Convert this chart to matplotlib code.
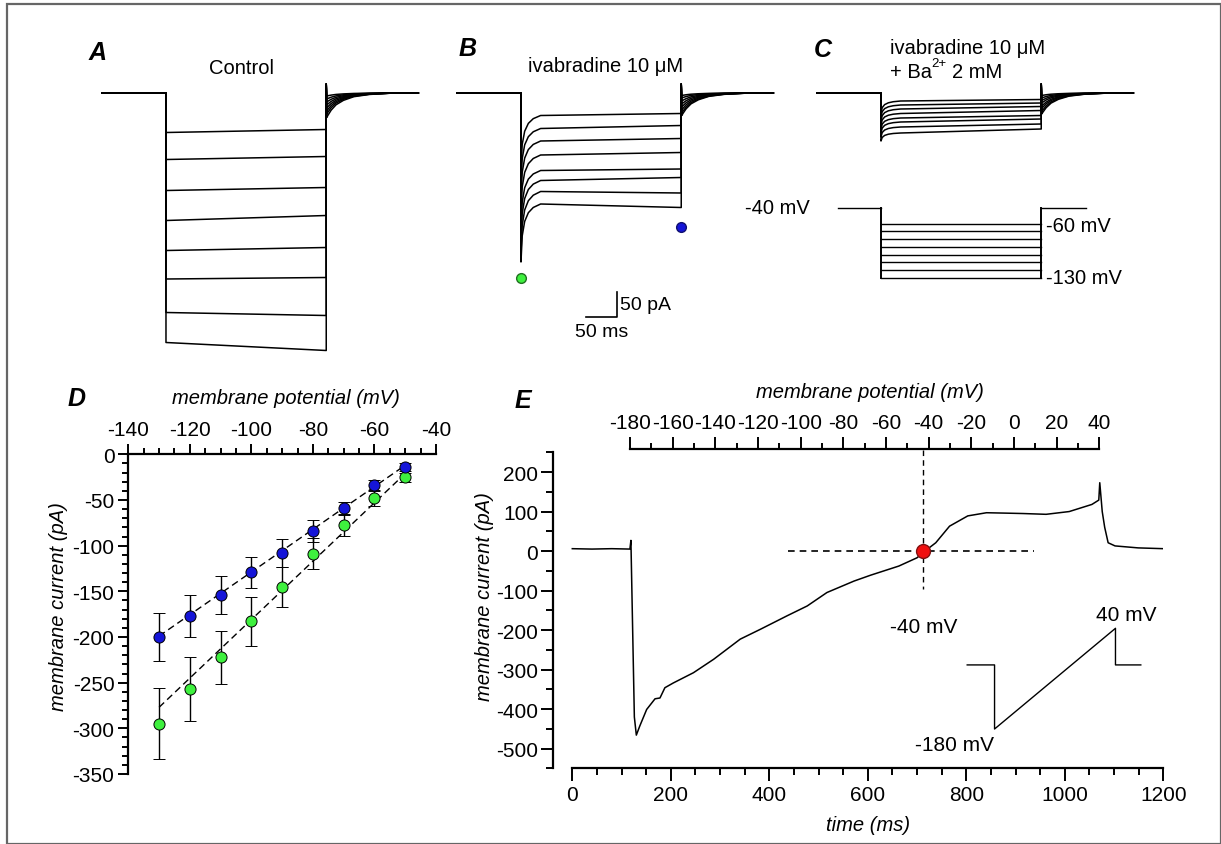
import matplotlib
matplotlib.use("Agg")
import matplotlib.pyplot as plt
from matplotlib.patches import Rectangle
from matplotlib.ticker import MultipleLocator

plt.rcParams['font.family'] = ['Liberation Sans', 'DejaVu Sans']
plt.rcParams['axes.unicode_minus'] = False

W, H = 1221, 845

# -------- DATA --------
# panels A-C : step protocol timing (ms)
t_on, t_off, t_end = 106, 367, 517

# A : control currents (pA) at start / end of each step, tail dip
ctrl_start = [-79, -133, -195, -255, -315, -372, -439, -499]
ctrl_end = [-73, -127, -189, -245, -309, -369, -445, -515]
ctrl_tail = [-6, -12, -18, -24, -30, -36, -42, -49]

# B : ivabradine 10 uM
ivab_peak = [-150, -180, -210, -240, -270, -295, -320, -338]
ivab_start = [-45, -71, -96, -124, -155, -175, -197, -222]
ivab_end = [-41, -65, -91, -119, -152, -169, -200, -229]
ivab_tail = [-5, -10, -16, -22, -28, -34, -40, -45]

# C : ivabradine + Ba2+
ba_peak = [-40, -48, -56, -64, -72, -80, -88, -96]
ba_start = [-16, -24, -32, -41, -50, -58, -68, -80]
ba_end = [-13, -20, -27, -35, -45, -52, -62, -72]
ba_tail = [-5, -10, -15, -20, -26, -31, -37, -42]

# transient shapes (fraction of amplitude)
onset_dt = [2, 6, 12, 20, 32]
onset_shape = [0.55, 0.3, 0.15, 0.06, 0.0]
tail_dt = [3, 8, 16, 28, 45, 70, 110]
tail_shape = [0.9, 0.7, 0.48, 0.3, 0.15, 0.06, 0.0]
tail_spike = 18

# voltage protocol (mV)
hold_mV = -40
step_mV = [-60, -70, -80, -90, -100, -110, -120, -130]
prot_t = [36, 440]

# D : I-V relation
iv_mV = [-130, -120, -110, -100, -90, -80, -70, -60, -50]
iv_ss = [-200, -177, -154, -129, -108, -84, -59, -34, -14]
iv_ss_err = [26, 23, 21, 17, 15, 12, 7, 6, 4]
iv_peak = [-295, -257, -222, -183, -145, -109, -77, -48, -25]
iv_peak_err = [39, 35, 29, 27, 22, 17, 12, 9, 5]
fit_mV = [-130, -50]
fit_ss = [-199, -12]
fit_peak = [-277, -21]

# E : ramp current
ramp_time = [0, 40, 80, 117, 119, 126, 130, 137, 151, 168, 178, 188, 205, 246,
             287, 341, 382, 436, 477, 517, 572, 606, 663, 700, 714, 738, 766,
             803, 841, 880, 915, 962, 1009, 1055, 1069, 1071, 1076, 1081,
             1088, 1102, 1149, 1200]
ramp_pA = [6, 5, 6, 5, 27, -420, -466, -443, -401, -374, -372, -346, -334, -308,
           -274, -223, -198, -164, -139, -105, -76, -61, -38, -17, -2, 21, 63,
           89, 97, 96, 95, 93, 100, 118, 129, 173, 100, 60,
           21, 13, 8, 6]
rev_time = 713
hline_t = [437, 937]
vline_pA = [255, -97]
# ramp protocol inset
inset_t = [0, 216, 216, 1171, 1171, 1371]
inset_mV = [-40, -40, -180, 40, -40, -40]

blue = '#1515d8'
green = '#3ef03e'
red = '#f01010'

fig = plt.figure(figsize=(W / 100, H / 100), dpi=100)


def add_ax(left, top, width, height):
    return fig.add_axes([left / W, 1 - (top + height) / H, width / W, height / H])


def ftext(x, y, s, **kw):
    fig.text(x / W, 1 - y / H, s, **kw)


def build_trace(start, end, tail, peak=None):
    t = [0, t_on, t_on]
    y = [0, 0, start if peak is None else peak]
    if peak is not None:
        for dt, f in zip(onset_dt, onset_shape):
            t.append(t_on + dt)
            y.append(start + (peak - start) * f)
    t += [t_off, t_off, t_off + 0.8]
    y += [end, tail_spike, tail]
    for dt, f in zip(tail_dt, tail_shape):
        t.append(t_off + dt)
        y.append(tail * f)
    t.append(t_end)
    y.append(0)
    return t, y


def trace_axes(left):
    ax = add_ax(left, 40, 340, 320)
    ax.set_xlim(0, 340 / 0.614)
    ax.set_ylim(-(360 - 94) / 0.5, (94 - 40) / 0.5)
    ax.axis('off')
    return ax


# -------- A --------
axA = trace_axes(100.9)
for s, e, tl in zip(ctrl_start, ctrl_end, ctrl_tail):
    t, y = build_trace(s, e, tl)
    axA.plot(t, y, color='k', lw=1.1)

# -------- B --------
axB = trace_axes(455.9)
for p, s, e, tl in zip(ivab_peak, ivab_start, ivab_end, ivab_tail):
    t, y = build_trace(s, e, tl, p)
    axB.plot(t, y, color='k', lw=1.1)
axB.plot([t_on], [min(ivab_peak) - 32], 'o', color=green, mec='#207020', ms=7, clip_on=False)
axB.plot([t_off], [min(ivab_end) - 39], 'o', color=blue, mec='#101070', ms=7, clip_on=False)
# scale bar 50 ms / 50 pA
axB.plot([212, 262, 262], [-448, -448, -398], color='k', lw=1.2, clip_on=False)

# -------- C --------
axC = trace_axes(815.9)
for p, s, e, tl in zip(ba_peak, ba_start, ba_end, ba_tail):
    t, y = build_trace(s, e, tl, p)
    axC.plot(t, y, color='k', lw=1.1)

# voltage protocol
axP = add_ax(815.9, 195, 340, 100)
axP.set_xlim(0, 340 / 0.614)
axP.set_ylim(-40 - (295 - 209.3) / 0.771, -40 + (209.3 - 195) / 0.771)
axP.axis('off')
axP.plot([prot_t[0], t_on], [hold_mV, hold_mV], color='k', lw=1)
axP.plot([t_off, prot_t[1]], [hold_mV, hold_mV], color='k', lw=1)
axP.plot([t_on, t_on], [hold_mV, min(step_mV)], color='k', lw=1.4)
axP.plot([t_off, t_off], [hold_mV, min(step_mV)], color='k', lw=1.4)
for v in step_mV:
    axP.plot([t_on, t_off], [v, v], color='k', lw=1)

# -------- D --------
axD = add_ax(128.3, 455.3, 307.7, 319.7)
axD.set_xlim(-140, -40)
axD.set_ylim(-350, 0)
axD.plot(fit_mV, fit_ss, color='k', lw=1, ls=(0, (5, 3)))
axD.plot(fit_mV, fit_peak, color='k', lw=1, ls=(0, (5, 3)))
axD.errorbar(iv_mV, iv_peak, yerr=iv_peak_err, fmt='o', mfc=green, mec='k', mew=0.7,
             ms=8, ecolor='k', elinewidth=1, capsize=4, capthick=1, clip_on=False)
axD.errorbar(iv_mV, iv_ss, yerr=iv_ss_err, fmt='o', mfc=blue, mec='k', mew=0.7,
             ms=8, ecolor='k', elinewidth=1, capsize=4, capthick=1, clip_on=False)
axD.spines['bottom'].set_visible(False)
axD.spines['right'].set_visible(False)
for s in ['top', 'left']:
    axD.spines[s].set_linewidth(1.6)
axD.xaxis.tick_top()
axD.xaxis.set_major_locator(MultipleLocator(20))
axD.xaxis.set_minor_locator(MultipleLocator(5))
axD.yaxis.set_major_locator(MultipleLocator(50))
axD.yaxis.set_minor_locator(MultipleLocator(10))
axD.tick_params(which='both', direction='out', width=1.4, labelsize=15)
axD.tick_params(which='major', length=7)
axD.tick_params(which='minor', length=4)
axD.tick_params(axis='x', pad=4)
axD.tick_params(axis='y', pad=3)

# -------- E --------
axE = add_ax(553.3, 453.3, 610, 316)
axE.set_xlim(-(572.3 - 553.3) / 0.4925, 1200)
axE.set_ylim(-550, 250)
axE.plot(ramp_time, ramp_pA, color='k', lw=1.1)
axE.plot(hline_t, [0, 0], color='k', lw=1.2, ls=(0, (4, 3)))
axE.plot([rev_time, rev_time], vline_pA, color='k', lw=1, ls=(0, (4, 3)), clip_on=False)
axE.plot([rev_time], [0], 'o', color=red, mec='#801010', ms=10)
axE.spines['top'].set_visible(False)
axE.spines['right'].set_visible(False)
axE.spines['bottom'].set_bounds(0, 1200)
for s in ['bottom', 'left']:
    axE.spines[s].set_linewidth(1.6)
axE.xaxis.set_major_locator(MultipleLocator(200))
axE.xaxis.set_minor_locator(MultipleLocator(50))
axE.yaxis.set_major_locator(MultipleLocator(100))
axE.yaxis.set_minor_locator(MultipleLocator(50))
axE.tick_params(which='both', direction='out', width=1.4, labelsize=15)
axE.tick_params(which='major', length=9)
axE.tick_params(which='minor', length=5)
axE.tick_params(axis='x', pad=3)
axE.tick_params(axis='y', pad=2)
axE.text(rev_time, -190, '-40 mV', ha='center', va='center', fontsize=15)
axE.text(1125, -161, '40 mV', ha='center', va='center', fontsize=15)
axE.text(776, -489, '-180 mV', ha='center', va='center', fontsize=15)

# membrane potential axis on top of E
axV = add_ax(630, 450, 469.3, 60)
axV.set_xlim(-180, 40)
axV.patch.set_visible(False)
for s in ['bottom', 'left', 'right']:
    axV.spines[s].set_visible(False)
axV.spines['top'].set_linewidth(1.6)
axV.set_yticks([])
axV.xaxis.tick_top()
axV.xaxis.set_major_locator(MultipleLocator(20))
axV.xaxis.set_minor_locator(MultipleLocator(10))
axV.tick_params(which='both', direction='out', width=1.4, labelsize=15, pad=3)
axV.tick_params(which='major', length=9)
axV.tick_params(which='minor', length=4)

# ramp protocol inset
axI = add_ax(967.2, 629.3, 173.6, 100.7)
axI.set_xlim(0, 1371)
axI.set_ylim(-180, 40)
axI.axis('off')
axI.plot(inset_t, inset_mV, color='k', lw=1, clip_on=False)

# -------- TEXT --------
lab = dict(fontsize=18, fontweight='bold', style='italic', ha='center', va='center')
ftext(98, 53, 'A', **lab)
ftext(468, 49, 'B', **lab)
ftext(823, 50, 'C', **lab)
ftext(77, 399, 'D', **lab)
ftext(523, 401, 'E', **lab)

ftext(241, 68, 'Control', fontsize=14.5, ha='center', va='center')
ftext(606, 67, 'ivabradine 10 \u03bcM', fontsize=14.5, ha='center', va='center')
ftext(890, 49, 'ivabradine 10 \u03bcM', fontsize=14.5, ha='left', va='center')
ftext(890, 72, '+ Ba', fontsize=14.5, ha='left', va='center')
ftext(931.5, 64, '2+', fontsize=9.5, ha='left', va='center')
ftext(952, 72, '2 mM', fontsize=14.5, ha='left', va='center')
ftext(620, 305, '50 pA', fontsize=14, ha='left', va='center')
ftext(602, 333, '50 ms', fontsize=14, ha='center', va='center')
ftext(810, 209, '-40 mV', fontsize=14.5, ha='right', va='center')
ftext(1046, 226, '-60 mV', fontsize=14.5, ha='left', va='center')
ftext(1046, 278, '-130 mV', fontsize=14.5, ha='left', va='center')

ital = dict(fontsize=14.5, style='italic', ha='center', va='center')
ftext(286, 398, 'membrane potential (mV)', **ital)
ftext(58, 607, 'membrane current (pA)', rotation=90, **ital)
ftext(870, 392, 'membrane potential (mV)', **ital)
ftext(484, 597, 'membrane current (pA)', rotation=90, **ital)
ftext(868, 826, 'time (ms)', **ital)

# outer frame
fig.patches.append(Rectangle((6.5 / W, 0.5 / H), (1220.5 - 6.5) / W, (840 - 0.5) / H,
                             transform=fig.transFigure, fill=False,
                             edgecolor='#666666', lw=1.6))

fig.savefig('out.png', dpi=100)
